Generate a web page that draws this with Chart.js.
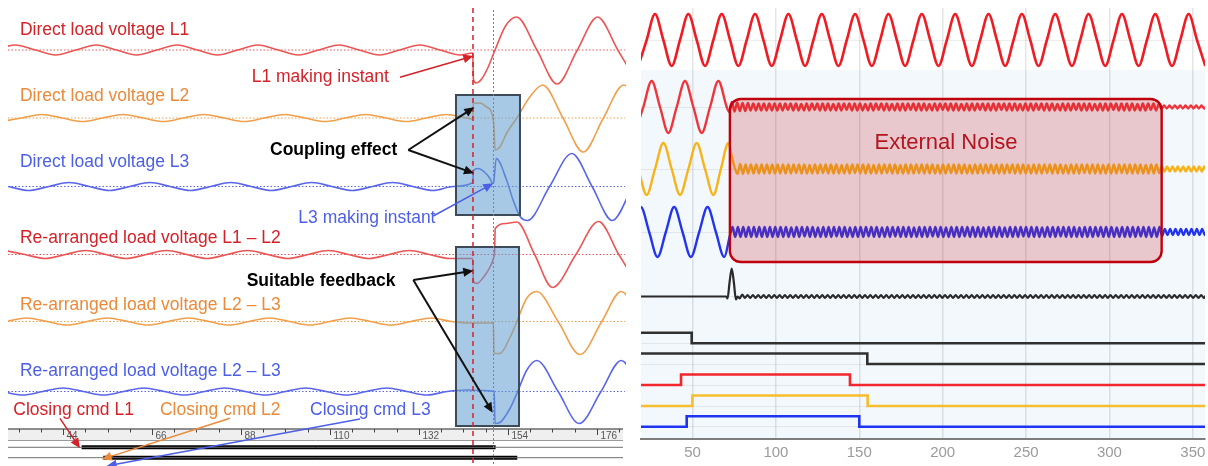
<!DOCTYPE html>
<html><head><meta charset="utf-8">
<script src="https://cdn.jsdelivr.net/npm/chart.js@4.4.1/dist/chart.umd.min.js"></script>
<style>
html,body{margin:0;padding:0;background:#fff;width:1208px;height:466px;overflow:hidden}
#cl{position:absolute;left:0;top:0}
#cr{position:absolute;left:630px;top:0}
</style></head><body>
<canvas id="cl" width="630" height="466"></canvas>
<canvas id="cr" width="578" height="466"></canvas>
<script>
// ================= LEFT PANEL DATA (time in ms, value = deflection) =================
const leftTickLabels = [44, 66, 88, 110, 132, 154, 176];
const directL1 = [[27.2,0],[32.2,5],[37.2,0],[42.2,-5],[47.2,0],[52.2,5],[57.2,0],[62.2,-5],[67.2,0],[72.2,5],[77.2,0],[82.2,-5],[87.2,0],[92.2,5],[97.2,0],[102.2,-5],[107.2,0],[112.2,5],[117.2,0],[122.2,-5],[127.2,0],[132.2,5],[137.2,0],[142.2,-5],[145.3,-3],[145.45,-29],[146.1,-33],[147.5,-29],[149,-18],[150.8,0],[153.4,24],[156.15,33],[161.15,0],[166.15,-34],[171.15,0],[176.15,33],[181.15,0],[186.15,-34]];
const directL2 = [[28.8,-3.5],[33.8,0],[38.8,3.5],[43.8,0],[48.8,-3.5],[53.8,0],[58.8,3.5],[63.8,0],[68.8,-3.5],[73.8,0],[78.8,3.5],[83.8,0],[88.8,-3.5],[93.8,0],[98.8,3.5],[103.8,0],[108.8,-3.5],[113.8,0],[118.8,3.5],[123.8,0],[128.8,-3.5],[133.8,0],[138.8,3.5],[143.8,0],[145.3,-1],[145.42,14.5],[147.1,15],[148.7,11],[150,5],[150.55,-9],[150.8,-32],[152,-29],[153.7,-15],[156.2,0],[159.4,21],[162.6,33],[167.6,0],[172.6,-34],[177.6,0],[182.6,33],[187.6,0]];
const directL3 = [[30.5,0],[35.5,-4],[40.5,0],[45.5,4],[50.5,0],[55.5,-4],[60.5,0],[65.5,4],[70.5,0],[75.5,-4],[80.5,0],[85.5,4],[90.5,0],[95.5,-4],[100.5,0],[105.5,4],[110.5,0],[115.5,-4],[120.5,0],[125.5,4],[130.5,0],[135.5,-4],[140.5,0],[145.3,4],[145.45,16],[146.65,18],[148.3,14],[149.55,8],[150.2,3],[150.45,4],[151.1,28],[153.7,6],[155.3,-14],[157,-30],[158.8,-34],[164.3,0],[169.8,33],[174.8,0],[179.8,-34],[184.8,0]];
const rearrL1L2 = [[29.6,4],[34.6,0],[39.6,-4],[44.6,0],[49.6,4],[54.6,0],[59.6,-4],[64.6,0],[69.6,4],[74.6,0],[79.6,-4],[84.6,0],[89.6,4],[94.6,0],[99.6,-4],[104.6,0],[109.6,4],[114.6,0],[119.6,-4],[124.6,0],[129.6,4],[134.6,0],[139.6,-4],[145.3,-4],[145.45,-27],[146.3,-29],[147.9,-23],[149.5,-13],[150.4,-4],[150.7,4],[150.85,26],[153.5,31],[156.2,32.5],[160.6,0],[165,-33],[170.8,0],[176.4,33],[181.4,0],[186.4,-33]];
const rearrL2L3a = [[30,0],[35,3.5],[40,0],[45,-3.5],[50,0],[55,3.5],[60,0],[65,-3.5],[70,0],[75,3.5],[80,0],[85,-3.5],[90,0],[95,3.5],[100,0],[105,-3.5],[110,0],[115,3.5],[120,0],[125,-3.5],[130,0],[135,3.5],[140,0],[145,-1.5],[150.4,-1.5],[150.55,-32],[152,-32],[154.5,-16],[156.2,0],[158.6,23],[161.1,30],[166.4,0],[171.8,-33],[177.2,0],[182,30],[187,0]];
const rearrL2L3b = [[29,0],[34,-3.5],[39,0],[44,3.5],[49,0],[54,-3.5],[59,0],[64,3.5],[69,0],[74,-3.5],[79,0],[84,3.5],[89,0],[94,-3.5],[99,0],[104,3.5],[109,0],[114,-3.5],[119,0],[124,3.5],[129,0],[134,-3.5],[139,0],[144,1.5],[150.6,0],[150.8,-32],[152,-31],[154.5,-17],[156.2,-2],[158.6,21],[161.1,31],[166.4,0],[171.6,-32],[177,0],[182,31],[187,0]];
const closingCmd = [[48.6,150.95],[53.96,156.3]];   // on / off time of closing commands L1, L2
const makingInstants = [145.35, 150.3];              // L1 and L3 making instants (ms)

// ================= RIGHT PANEL DATA (time index, value = deflection) =================
const rightTickLabels = [50, 100, 150, 200, 250, 300, 350];
const topRedStart = 17.5, topRedStep = 5;
const topRed = [-26,0,26,0,-26,0,26,0,-26,0,26,0,-26,0,26,0,-26,0,26,0,-26,0,26,0,-26,0,26,0,-26,0,26,0,-26,0,26,0,
 -26,0,26,0,-26,0,26,0,-26,0,26,0,-26,0,26,0,-26,0,26,0,-26,0,26,0,-26,0,26,0,-26,0,26,0,-26];
const midRedWave = [[15.5,-26],[20.5,0],[25.5,26],[30.5,0],[35.5,-26],[40.5,0],[45.5,26],[50.5,0],[55.5,-26],[60.5,0],[65.5,26],[70.5,0]];
const yellowWave = [[17.5,0],[22.5,-26],[27.5,0],[32.5,26],[37.5,0],[42.5,-26],[47.5,0],[52.5,26],[57.5,0],[62.5,-26],[67,0],[71.5,26],[73.5,13],[75.5,0]];
const blueWave = [[14,0],[19,25],[24,0],[29,-25],[34,0],[39,25],[44,0],[49,-25],[54,0],[59,25],[64,0],[69,-25],[72.5,-3]];
const blackWave = [[15,0],[70.2,0],[71,-2],[72.2,14],[73.5,28],[74.8,14],[76,-3],[77,0]];
const noiseStep = 1.6;
const midRedNoiseStart = 72, yellowNoiseStart = 77, blueNoiseStart = 74, blackNoiseStart = 78.2;
const midRedNoise = [-5,5,-4.5,4.5,-4,4,-4,4,-3.5,3.5,-3.5,3.5,-3.5,3.5,-3.5,3.5,-3.5,3.5,-3.5,3.5,
 -3.5,3.5,-3,3.5,-3.5,3.5,-3.5,3,-3.5,3.5,-3.5,3.5,-3,3.5,-3.5,3.5,-3.5,3.5,-3.5,3,
 -3.5,3.5,-3.5,3.5,-3,3.5,-3.5,3.5,-3.5,3.5,-3.5,3,-3.5,3.5,-3.5,3.5,-3,3.5,-3.5,3.5,
 -3.5,3,-3.5,3.5,-3.5,3.5,-3.5,3.5,-3,3.5,-3.5,3.5,-3.5,3.5,-3.5,3,-3.5,3.5,-3.5,3.5,
 -3,3.5,-3.5,3.5,-3.5,3.5,-3.5,3,-3.5,3.5,-3.5,3.5,-3.5,3.5,-3,3.5,-3.5,3.5,-3.5,3.5,
 -3.5,3.5,-3,3.5,-3.5,3.5,-3.5,3.5,-3.5,3,-3.5,3.5,-3.5,3.5,-3.5,3.5,-3,3.5,-3.5,3.5,
 -3.5,3.5,-3.5,3,-3.5,3.5,-3.5,3.5,-3.5,3.5,-3,3.5,-3.5,3.5,-3.5,3.5,-3.5,3,-3.5,3.5,
 -3.5,3.5,-3.5,3.5,-3,3.5,-3.5,3.5,-3.5,3.5,-3.5,3.5,-3.5,3,-3.5,3.5,-3.5,3.5,-3,3.5,
 -3.5,3,-2,1.5,-1.5,1.5,-1.5,1.5,-1.5,1.5,-1.5,1.5,-1.5,1.5,-1.5,1.5,-1.5,1.5,-1.5,1.5];
const yellowNoise = [-5,5,-5,4.5,-4.5,4.5,-4.5,4.5,-4.5,4.5,-4.5,4.5,-4.5,4.5,-4.5,4.5,-4.5,4.5,-4.5,4.5,
 -4.5,4.5,-4,4.5,-4.5,4.5,-4.5,4,-4.5,4.5,-4.5,4.5,-4,4.5,-4.5,4.5,-4.5,4.5,-4.5,4,
 -4.5,4.5,-4.5,4.5,-4,4.5,-4.5,4.5,-4.5,4.5,-4.5,4,-4.5,4.5,-4.5,4.5,-4,4.5,-4.5,4.5,
 -4.5,4,-4.5,4.5,-4.5,4.5,-4.5,4.5,-4,4.5,-4.5,4.5,-4.5,4.5,-4.5,4,-4.5,4.5,-4.5,4.5,
 -4,4.5,-4.5,4.5,-4.5,4.5,-4.5,4,-4.5,4.5,-4.5,4.5,-4.5,4.5,-4,4.5,-4.5,4.5,-4.5,4.5,
 -4.5,4.5,-4,4.5,-4.5,4.5,-4.5,4.5,-4.5,4,-4.5,4.5,-4.5,4.5,-4.5,4.5,-4,4.5,-4.5,4.5,
 -4.5,4.5,-4.5,4,-4.5,4.5,-4.5,4.5,-4.5,4.5,-4,4.5,-4.5,4.5,-4.5,4.5,-4.5,4,-4.5,4.5,
 -4.5,4.5,-4.5,4.5,-4,4.5,-4.5,4.5,-4.5,4.5,-4.5,4.5,-4.5,4,-4.5,4.5,-4.5,4.5,-4,3,
 -2.5,2.5,-2.5,2.5,-2.5,2.5,-2.5,2.5,-2.5,2.5,-2.5,2.5,-2.5,2.5,-2.5,2.5,-2.5,2.5,-2.5,2.5];
const blueNoise = [5,-5,5,-5,5,-5,5,-5,5,-5,5,-5,5,-5,5,-5,5,-5,5,-5,
 5,-5,4.5,-5,5,-5,5,-4.5,5,-5,5,-5,4.5,-5,5,-5,5,-5,5,-4.5,
 5,-5,5,-5,4.5,-5,5,-5,5,-5,5,-4.5,5,-5,5,-5,4.5,-5,5,-5,
 5,-4.5,5,-5,5,-5,5,-5,4.5,-5,5,-5,5,-5,5,-4.5,5,-5,5,-5,
 4.5,-5,5,-5,5,-5,5,-4.5,5,-5,5,-5,5,-5,4.5,-5,5,-5,5,-5,
 5,-5,4.5,-5,5,-5,5,-5,5,-4.5,5,-5,5,-5,5,-5,4.5,-5,5,-5,
 5,-5,5,-4.5,5,-5,5,-5,5,-5,4.5,-5,5,-5,5,-5,5,-4.5,5,-5,
 5,-5,5,-5,4.5,-5,5,-5,5,-5,5,-5,5,-4.5,5,-5,5,-5,4.5,-5,
 5,-4,3,-3,3,-3,3,-3,3,-3,3,-3,3,-3,3,-3,3,-3,3,-3];
const blackNoise = [-2,2,-1.5,1.5,-1.5,1.5,-1.5,1.5,-1.5,1.5,-1.5,1.5,-1.5,1.5,-1.5,1.5,-1.5,1.5,-1.5,1.5,
 -1.5,1.5,-1.5,1.5,-1.5,1.5,-1.5,1.5,-1.5,1.5,-1.5,1.5,-1.5,1.5,-1.5,1.5,-1.5,1.5,-1.5,1.5,
 -1.5,1.5,-1.5,1.5,-1.5,1.5,-1.5,1.5,-1.5,1.5,-1.5,1.5,-1.5,1.5,-1.5,1.5,-1.5,1.5,-1.5,1.5,
 -1.5,1.5,-1.5,1.5,-1.5,1.5,-1.5,1.5,-1.5,1.5,-1.5,1.5,-1.5,1.5,-1.5,1.5,-1.5,1.5,-1.5,1.5,
 -1.5,1.5,-1.5,1.5,-1.5,1.5,-1.5,1.5,-1.5,1.5,-1.5,1.5,-1.5,1.5,-1.5,1.5,-1.5,1.5,-1.5,1.5,
 -1.5,1.5,-1.5,1.5,-1.5,1.5,-1.5,1.5,-1.5,1.5,-1.5,1.5,-1.5,1.5,-1.5,1.5,-1.5,1.5,-1.5,1.5,
 -1.5,1.5,-1.5,1.5,-1.5,1.5,-1.5,1.5,-1.5,1.5,-1.5,1.5,-1.5,1.5,-1.5,1.5,-1.5,1.5,-1.5,1.5,
 -1.5,1.5,-1.5,1.5,-1.5,1.5,-1.5,1.5,-1.5,1.5,-1.5,1.5,-1.5,1.5,-1.5,1.5,-1.5,1.5,-1.5,1.5,
 -1.5,1.5,-1.5,1.5,-1.5,1.5,-1.5,1.5,-1.5,1.5,-1.5,1.5,-1.5,1.5,-1.5,1.5,-1.5,1.5,-1.5,1.5];
// digital channels: [time, state]
const digBlack1 = [[15,1],[49.5,0],[360,0]];
const digBlack2 = [[15,1],[154.8,0],[360,0]];
const digRed    = [[15,0],[43.1,1],[144.4,0],[360,0]];
const digYellow = [[15,0],[49.9,1],[155,0],[360,0]];
const digBlue   = [[15,0],[46.5,1],[150,0],[360,0]];
const noiseWindow = [72.4, 331.3];   // External Noise region (time)

// ================= STYLE / LAYOUT =================
const FONT = '"Liberation Sans", Arial, sans-serif';
const RED_L='#ea5656', ORG_L='#f0a04c', BLU_L='#5a66e8';
const RED_T='#d42229', ORG_T='#ea8a3a', BLU_T='#4c5fe6';
const leftRange = [30.4, 183.18];
const leftBase = [50, 118, 186.5, 254.5, 321.5, 391.5];
const leftColors = [RED_L, ORG_L, BLU_L, RED_L, ORG_L, BLU_L];
const cmdBase = [447.3, 457.7];
const rulerTop = 429, rulerBottom = 440.5, rulerEnd = 182.44, rulerMinorStep = 5.5;

function pairs(arr, base, gain){ return arr.map(([t,v]) => ({x:t, y: base - v*(gain||1)})); }
function sampled(start, step, vals, base){ return vals.map((v,i) => ({x: start + i*step, y: base - v})); }

function arrow(ctx, x1,y1,x2,y2,color,w){
  const a = Math.atan2(y2-y1, x2-x1), hl = 10, hw = 4.5;
  ctx.save();
  ctx.strokeStyle = color; ctx.fillStyle = color; ctx.lineWidth = w;
  ctx.beginPath(); ctx.moveTo(x1,y1); ctx.lineTo(x2 - hl*0.8*Math.cos(a), y2 - hl*0.8*Math.sin(a)); ctx.stroke();
  ctx.beginPath(); ctx.moveTo(x2,y2);
  ctx.lineTo(x2 - hl*Math.cos(a) + hw*Math.sin(a), y2 - hl*Math.sin(a) - hw*Math.cos(a));
  ctx.lineTo(x2 - hl*Math.cos(a) - hw*Math.sin(a), y2 - hl*Math.sin(a) + hw*Math.cos(a));
  ctx.closePath(); ctx.fill();
  ctx.restore();
}

// ---------- left datasets ----------
const leftSeries = [directL1, directL2, directL3, rearrL1L2, rearrL2L3a, rearrL2L3b];
const leftDs = [];
leftSeries.forEach((s,i) => leftDs.push({data:[{x:leftRange[0],y:leftBase[i]},{x:182.9,y:leftBase[i]}], borderColor:leftColors[i], borderWidth:1, borderDash:[1.5,2], pointRadius:0}));
leftSeries.forEach((s,i) => leftDs.push({data:pairs(s, leftBase[i]), borderColor:leftColors[i], borderWidth:1.6, pointRadius:0, cubicInterpolationMode:'monotone'}));
closingCmd.forEach((c,i) => {
  leftDs.push({data:[{x:leftRange[0],y:cmdBase[i]},{x:rulerEnd,y:cmdBase[i]}], borderColor:'#6e6e6e', borderWidth:1, pointRadius:0});
  leftDs.push({data:[{x:c[0],y:cmdBase[i]},{x:c[1],y:cmdBase[i]}], borderColor:'#000', borderWidth:4, borderCapStyle:'butt', pointRadius:0});
});

const leftLabels = [
  ['Direct load voltage L1', 33.36, 35, RED_T, false],
  ['Direct load voltage L2', 33.36, 100.7, ORG_T, false],
  ['Direct load voltage L3', 33.36, 166.7, BLU_T, false],
  ['Re-arranged load voltage L1 \u2013 L2', 33.36, 243, RED_T, false],
  ['Re-arranged load voltage L2 \u2013 L3', 33.36, 310, ORG_T, false],
  ['Re-arranged load voltage L2 \u2013 L3', 33.36, 376, BLU_T, false],
  ['Closing cmd L1', 31.71, 415, RED_T, false],
  ['Closing cmd L2', 67.97, 415, ORG_T, false],
  ['Closing cmd L3', 105.06, 415, BLU_T, false],
  ['L1 making instant', 90.64, 81.7, RED_T, false],
  ['L3 making instant', 102.17, 223.3, BLU_T, false],
  ['Coupling effect', 95.17, 155, '#000', true],
  ['Suitable feedback', 89.41, 286, '#000', true]
];
const leftArrows = [
  [127.31,77.3, 145.43,56, RED_T, 1.5],
  [129.36,150, 145.68,107.3, '#111', 2],
  [129.36,150, 145.60,173.3, '#111', 2],
  [135.54,216, 150.37,183.3, BLU_T, 1.5],
  [130.6,280, 145.43,270.7, '#111', 2],
  [130.6,280, 150.22,412.7, '#111', 2],
  [43.25,418.3, 48.2,448.3, RED_T, 1.5],
  [85.28,418.3, 53.56,459.3, ORG_T, 1.5],
  [117.42,419, 54.8,466, BLU_T, 1.5]
];
const leftBoxes = [[141.15, 95, 156.97, 215], [141.15, 247, 156.73, 426]];

const leftPlugin = {
  id:'leftDeco',
  beforeDatasetsDraw(chart){
    const {ctx, scales:{x,y}} = chart;
    const X = v => x.getPixelForValue(v), Y = v => y.getPixelForValue(v);
    ctx.save();
    ctx.fillStyle = '#efefef';
    ctx.fillRect(X(leftRange[0]), Y(rulerTop), X(rulerEnd)-X(leftRange[0]), Y(rulerBottom)-Y(rulerTop));
    ctx.strokeStyle = '#6a6a6a'; ctx.lineWidth = 1.3;
    ctx.beginPath(); ctx.moveTo(X(leftRange[0]), Y(rulerTop)); ctx.lineTo(X(rulerEnd), Y(rulerTop)); ctx.stroke();
    ctx.strokeStyle = '#9a9a9a'; ctx.lineWidth = 1;
    ctx.beginPath(); ctx.moveTo(X(leftRange[0]), Y(rulerBottom)); ctx.lineTo(X(rulerEnd), Y(rulerBottom)); ctx.stroke();
    const first = leftTickLabels[0] - rulerMinorStep*Math.floor((leftTickLabels[0]-leftRange[0])/rulerMinorStep);
    ctx.strokeStyle = '#444'; ctx.lineWidth = 1;
    ctx.font = '10px ' + FONT; ctx.fillStyle = '#555'; ctx.textBaseline = 'alphabetic';
    for (let t = first; t <= rulerEnd; t += rulerMinorStep) {
      const major = leftTickLabels.some(v => Math.abs(v - t) < 0.01);
      const px = Math.round(X(t)) + 0.5;
      ctx.beginPath(); ctx.moveTo(px, Y(rulerTop)); ctx.lineTo(px, Y(rulerTop) + (major ? 6 : 3.5)); ctx.stroke();
      if (major) ctx.fillText(String(Math.round(t)), px + 3, Y(rulerTop) + 10);
    }
    ctx.restore();
  },
  afterDatasetsDraw(chart){
    const {ctx, scales:{x,y}} = chart;
    const X = v => x.getPixelForValue(v), Y = v => y.getPixelForValue(v);
    ctx.save();
    leftBoxes.forEach(([t1,y1,t2,y2]) => {
      ctx.fillStyle = 'rgba(97,157,208,0.55)';
      ctx.fillRect(X(t1), Y(y1), X(t2)-X(t1), Y(y2)-Y(y1));
      ctx.strokeStyle = '#3d4a58'; ctx.lineWidth = 2;
      ctx.strokeRect(X(t1), Y(y1), X(t2)-X(t1), Y(y2)-Y(y1));
    });
    ctx.lineWidth = 1.5; ctx.strokeStyle = '#d42229'; ctx.setLineDash([5,4]);
    ctx.beginPath(); ctx.moveTo(X(makingInstants[0]), 8); ctx.lineTo(X(makingInstants[0]), 466); ctx.stroke();
    ctx.lineWidth = 1; ctx.strokeStyle = '#4a8ed8'; ctx.setLineDash([2,2]);
    ctx.beginPath(); ctx.moveTo(X(makingInstants[1]) + 0.5, 10); ctx.lineTo(X(makingInstants[1]) + 0.5, 466); ctx.stroke();
    ctx.setLineDash([]);
    leftArrows.forEach(([t1,y1,t2,y2,c,w]) => arrow(ctx, X(t1), Y(y1), X(t2), Y(y2), c, w));
    ctx.textBaseline = 'alphabetic'; ctx.textAlign = 'left';
    leftLabels.forEach(([txt,t,yy,c,bold]) => {
      ctx.font = (bold ? 'bold ' : '') + '17.5px ' + FONT;
      ctx.fillStyle = c;
      ctx.fillText(txt, X(t), Y(yy));
    });
    ctx.restore();
  }
};

new Chart(document.getElementById('cl'), {
  type:'line',
  data:{datasets:leftDs},
  options:{
    responsive:false, animation:false, devicePixelRatio:1, events:[],
    layout:{padding:{left:8, right:4, top:0, bottom:0}},
    plugins:{legend:{display:false}, tooltip:{enabled:false}},
    scales:{
      x:{type:'linear', min:leftRange[0], max:leftRange[1], display:false},
      y:{type:'linear', min:0, max:466, reverse:true, display:false}
    }
  },
  plugins:[leftPlugin]
});

// ---------- right datasets ----------
const rightBase = {top:40, mid:107, yellow:169, blue:232, black:296.5, d1:343.3, d2:364, d3:385, d4:406, d5:426.7};
const digGain = 10.5;
const rightDs = [
  {data:sampled(topRedStart, topRedStep, topRed, rightBase.top), borderColor:'#ef1c24', borderWidth:2.6},
  {data:pairs(midRedWave, rightBase.mid).concat(sampled(midRedNoiseStart, noiseStep, midRedNoise, rightBase.mid)), borderColor:'#f0343a', borderWidth:2.4},
  {data:pairs(yellowWave, rightBase.yellow).concat(sampled(yellowNoiseStart, noiseStep, yellowNoise, rightBase.yellow)), borderColor:'#f7b318', borderWidth:2.4},
  {data:pairs(blueWave, rightBase.blue).concat(sampled(blueNoiseStart, noiseStep, blueNoise, rightBase.blue)), borderColor:'#2234ee', borderWidth:2.4},
  {data:pairs(blackWave, rightBase.black).concat(sampled(blackNoiseStart, noiseStep, blackNoise, rightBase.black)), borderColor:'#2a2a2a', borderWidth:2.2},
].map(d => Object.assign(d, {pointRadius:0, cubicInterpolationMode:'monotone'}));
[[digBlack1,'d1','#303030'],[digBlack2,'d2','#303030'],[digRed,'d3','#f2262c'],[digYellow,'d4','#f6bd2c'],[digBlue,'d5','#1f34f0']].forEach(([s,k,c]) => {
  rightDs.push({data:pairs(s, rightBase[k], digGain), borderColor:c, borderWidth:2.6, pointRadius:0, stepped:'before', borderJoinStyle:'miter', borderCapStyle:'butt'});
});
const rightGridRows = Object.values(rightBase);

const rightPlugin = {
  id:'rightDeco',
  beforeDraw(chart){
    const {ctx, chartArea:a, scales:{y}} = chart;
    ctx.save();
    ctx.fillStyle = '#ffffff'; ctx.fillRect(0,0,chart.width,chart.height);
    const split = y.getPixelForValue(70);
    ctx.fillStyle = '#f2f8fc'; ctx.fillRect(a.left, split, a.right-a.left, a.bottom-split);
    ctx.restore();
  },
  afterDatasetsDraw(chart){
    const {ctx, scales:{x,y}} = chart;
    const x1 = x.getPixelForValue(noiseWindow[0]), x2 = x.getPixelForValue(noiseWindow[1]);
    const y1 = y.getPixelForValue(99), y2 = y.getPixelForValue(262);
    ctx.save();
    ctx.beginPath(); ctx.roundRect(x1, y1, x2-x1, y2-y1, 11);
    ctx.fillStyle = 'rgba(200,30,40,0.22)'; ctx.fill();
    ctx.strokeStyle = '#c0000c'; ctx.lineWidth = 2.4; ctx.stroke();
    ctx.font = '22px ' + FONT; ctx.fillStyle = '#b4141e';
    ctx.textAlign = 'center'; ctx.textBaseline = 'middle';
    ctx.fillText('External Noise', x.getPixelForValue(202), y.getPixelForValue(143));
    ctx.restore();
  }
};

new Chart(document.getElementById('cr'), {
  type:'line',
  data:{datasets:rightDs},
  options:{
    responsive:false, animation:false, devicePixelRatio:1, events:[],
    layout:{padding:{left:11, right:3, top:8, bottom:0}},
    plugins:{legend:{display:false}, tooltip:{enabled:false}},
    scales:{
      x:{type:'linear', min:19.1, max:357.3,
         afterBuildTicks: ax => { ax.ticks = rightTickLabels.map(v => ({value:v})); },
         afterFit: ax => { ax.height = 27; ax.paddingLeft = 0; ax.paddingRight = 0; },
         grid:{color:'rgba(0,0,0,0.10)', lineWidth:1.5, drawTicks:false},
         border:{display:true, color:'#7d7d7d', width:2},
         ticks:{color:'#9b9b9b', font:{family:FONT, size:15}, padding:5, maxRotation:0}},
      y:{type:'linear', min:8, max:439, reverse:true,
         afterBuildTicks: ax => { ax.ticks = rightGridRows.map(v => ({value:v})); },
         afterFit: ax => { ax.width = 0; },
         ticks:{display:false}, grid:{color:'rgba(0,0,0,0.07)', drawTicks:false}, border:{display:false}}
    }
  },
  plugins:[rightPlugin]
});
</script></body></html>
